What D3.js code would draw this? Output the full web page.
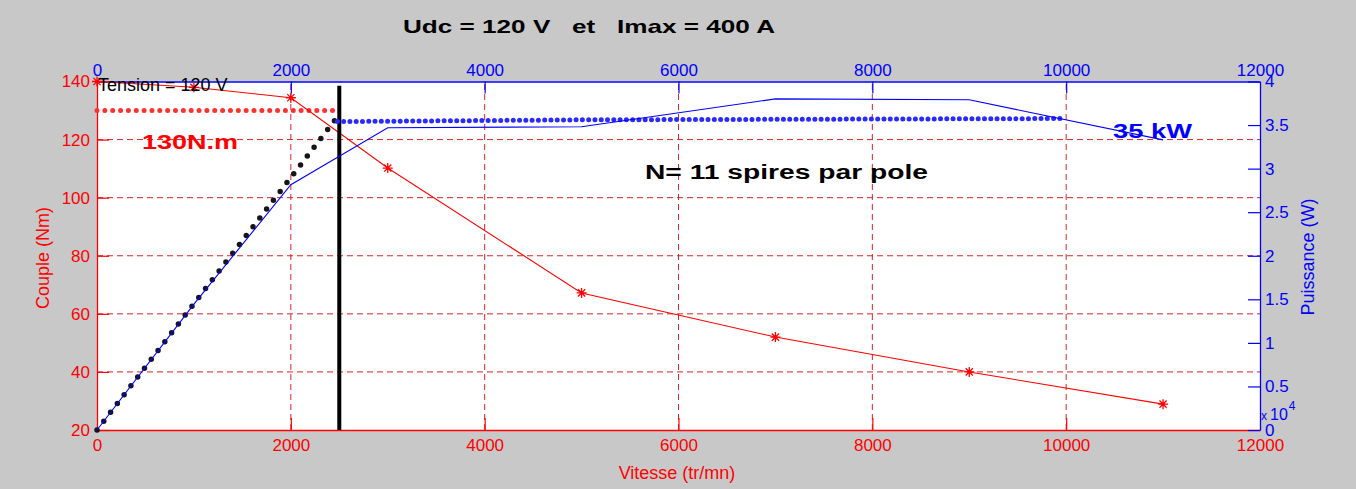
<!DOCTYPE html>
<html>
<head>
<meta charset="utf-8">
<script src="https://cdn.jsdelivr.net/npm/d3@7"></script>
<style>
  html, body { margin: 0; padding: 0; background: #c8c8c8; }
  svg { display: block; }
  text { font-family: "Liberation Sans", Arial, sans-serif; }
</style>
</head>
<body>
<svg id="chart" width="1356" height="489"></svg>
<script>
// ---------------- data ----------------
const speedTicks = [0, 2000, 4000, 6000, 8000, 10000, 12000];
const torqueTicks = [20, 40, 60, 80, 100, 120, 140];
const powerTicks = [0, 5000, 10000, 15000, 20000, 25000, 30000, 35000, 40000];
const powerTickLabels = ["0", "0.5", "1", "1.5", "2", "2.5", "3", "3.5", "4"];

// torque curve (red, * markers)
const speed = [0, 1000, 2000, 3000, 5000, 7000, 9000, 11000];
const torque = [140, 138, 134.4, 110.2, 67.2, 52, 40, 28.9];
// power curve (blue line), in W
const power = [0, 14450, 28150, 34700, 34800, 38000, 37900, 33300];

// 130 N.m limit (red dotted)
const limitTorqueSpeed = [0, 2430];
const limitTorque = [130, 130];
// constant-torque power ramp (black dotted), in W
const rampSpeed = [0, 2450];
const rampPower = [0, 35500];
// 35 kW limit (blue dotted), in W
const limitPowerSpeed = [2480, 5000, 10000];
const limitPower = [35400, 35600, 35750];
// base speed marker (black vertical line)
const baseSpeed = [2500, 2500];
const baseTorque = [20, 138.5];

// ---------------- layout ----------------
const svg = d3.select("#chart");
const L = 97, R = 1260, T = 81.5, B = 430;
const FONT = '"Liberation Sans", Arial, sans-serif';
const BOLD = '"DejaVu Sans", "Liberation Sans", Arial, sans-serif';

const x = d3.scaleLinear().domain([0, 12000]).range([L, R]);
const yL = d3.scaleLinear().domain([20, 140]).range([B, T]);
const yR = d3.scaleLinear().domain([0, 40000]).range([B, T]);

const RED = "#ff0000", BLUE = "#0000ff";

svg.append("rect").attr("width", 1356).attr("height", 489).attr("fill", "#c8c8c8");
svg.append("rect").attr("x", L).attr("y", T).attr("width", R - L).attr("height", B - T).attr("fill", "#ffffff");

// grid (red dashed)
const grid = svg.append("g").attr("stroke", "#d8242a").attr("stroke-width", 1).attr("stroke-dasharray", "6,4");
grid.selectAll("line.v").data(speedTicks.slice(1, -1)).join("line")
  .attr("x1", d => x(d)).attr("x2", d => x(d)).attr("y1", B).attr("y2", T);
grid.selectAll("line.h").data(torqueTicks.slice(1, -1)).join("line")
  .attr("y1", d => yL(d)).attr("y2", d => yL(d)).attr("x1", L).attr("x2", R);

// ---------------- axes ----------------
const tickLen = 12;
const axB = svg.append("g").attr("transform", `translate(0,${B})`)
  .call(d3.axisBottom(x).tickValues(speedTicks).tickSizeInner(-tickLen).tickSizeOuter(0).tickPadding(9).tickFormat(d3.format("d")));
const axT = svg.append("g").attr("transform", `translate(0,${T})`)
  .call(d3.axisTop(x).tickValues(speedTicks).tickSizeInner(-tickLen).tickSizeOuter(0).tickPadding(6).tickFormat(d3.format("d")));
const axL = svg.append("g").attr("transform", `translate(${L},0)`)
  .call(d3.axisLeft(yL).tickValues(torqueTicks).tickSizeInner(-tickLen).tickSizeOuter(0).tickPadding(7));
const axR = svg.append("g").attr("transform", `translate(${R},0)`)
  .call(d3.axisRight(yR).tickValues(powerTicks).tickSizeInner(-tickLen).tickSizeOuter(0).tickPadding(5)
    .tickFormat((d, i) => powerTickLabels[i]));

[[axB, RED], [axL, RED], [axT, BLUE], [axR, BLUE]].forEach(([g, c]) => {
  g.selectAll(".domain").attr("stroke", c).attr("stroke-width", 1.3);
  g.selectAll(".tick line").attr("stroke", c).attr("stroke-width", 1.2);
  g.selectAll(".tick text").attr("fill", c).attr("font-size", 17).attr("font-family", FONT);
});
axT.selectAll(".tick line").filter(d => d === 0 || d === 12000).remove();
axB.selectAll(".tick line").filter(d => d === 0 || d === 12000).remove();

// x 10^4 multiplier
const mult = svg.append("text").attr("x", 1261).attr("y", 420).attr("fill", BLUE).attr("font-family", FONT);
mult.append("tspan").attr("font-size", 12).text("x");
mult.append("tspan").attr("font-size", 16).attr("dx", 3).text("10");
mult.append("tspan").attr("font-size", 12).attr("dy", -10).attr("dx", 1).text("4");

// axis labels
svg.append("text").attr("x", 677).attr("y", 479).attr("text-anchor", "middle")
  .attr("fill", RED).attr("font-size", 18).attr("font-family", FONT).text("Vitesse (tr/mn)");
svg.append("text").attr("transform", `translate(49,258) rotate(-90)`).attr("text-anchor", "middle")
  .attr("fill", RED).attr("font-size", 18).attr("font-family", FONT).text("Couple (Nm)");
svg.append("text").attr("transform", `translate(1314,257) rotate(-90)`).attr("text-anchor", "middle")
  .attr("fill", BLUE).attr("font-size", 18).attr("font-family", FONT).text("Puissance (W)");

// ---------------- marks ----------------
function dotted(xs, ys, yScale, color, width, spacing) {
  const line = d3.line().x(d => x(d[0])).y(d => yScale(d[1]));
  const p = svg.append("path").datum(xs.map((v, i) => [v, ys[i]]))
    .attr("d", line).attr("fill", "none").attr("stroke", color)
    .attr("stroke-width", width).attr("stroke-linecap", "round");
  const len = p.node().getTotalLength();
  const n = Math.max(1, Math.round(len / spacing));
  p.attr("stroke-dasharray", `0 ${len / n}`);
  return p;
}

dotted(limitTorqueSpeed, limitTorque, yL, "#ff3030", 5, 7.8);
const tLine = d3.line().x(d => x(d[0])).y(d => yL(d[1]));
const torquePts = speed.map((s, i) => [s, torque[i]]);
svg.append("path").datum(torquePts).attr("d", tLine).attr("fill", "none").attr("stroke", RED).attr("stroke-width", 1.1);
const star = "M-5,0H5M0,-5V5M-3.6,-3.6L3.6,3.6M-3.6,3.6L3.6,-3.6";
svg.selectAll("path.star").data(torquePts).join("path").attr("class", "star")
  .attr("transform", d => `translate(${x(d[0])},${yL(d[1])})`)
  .attr("d", star).attr("stroke", RED).attr("stroke-width", 1.3).attr("fill", "none");

dotted(rampSpeed, rampPower, yR, "#151515", 5.5, 11);
svg.append("path").datum(baseSpeed.map((s, i) => [s, baseTorque[i]]))
  .attr("d", tLine).attr("stroke", "#000").attr("stroke-width", 4).attr("fill", "none");

dotted(limitPowerSpeed, limitPower, yR, "#2a2aff", 5, 6.3);
const pLine = d3.line().x(d => x(d[0])).y(d => yR(d[1]));
svg.append("path").datum(speed.map((s, i) => [s, power[i]])).attr("d", pLine)
  .attr("fill", "none").attr("stroke", BLUE).attr("stroke-width", 1.1);

// ---------------- annotations ----------------
svg.append("text").attr("x", 98).attr("y", 91).attr("fill", "#000").attr("font-size", 18)
  .attr("font-family", FONT).text("Tension = 120 V");
svg.append("text").attr("x", 142).attr("y", 149).attr("fill", RED).attr("font-size", 21).attr("font-weight", "bold")
  .attr("font-family", BOLD).attr("textLength", 96).attr("lengthAdjust", "spacingAndGlyphs").text("130N.m");
svg.append("text").attr("x", 645).attr("y", 178.5).attr("fill", "#000").attr("font-size", 20).attr("font-weight", "bold")
  .attr("font-family", BOLD).attr("textLength", 283).attr("lengthAdjust", "spacingAndGlyphs").text("N= 11 spires par pole");
svg.append("text").attr("x", 1113).attr("y", 138).attr("fill", BLUE).attr("font-size", 21).attr("font-weight", "bold")
  .attr("font-family", BOLD).attr("textLength", 79).attr("lengthAdjust", "spacingAndGlyphs").text("35 kW");
svg.append("text").attr("x", 403).attr("y", 33).attr("fill", "#000").attr("font-size", 19).attr("font-weight", "bold")
  .attr("font-family", BOLD).attr("xml:space", "preserve").style("white-space", "pre")
  .attr("textLength", 372).attr("lengthAdjust", "spacingAndGlyphs").text("Udc = 120 V   et   Imax = 400 A");
</script>
</body>
</html>
